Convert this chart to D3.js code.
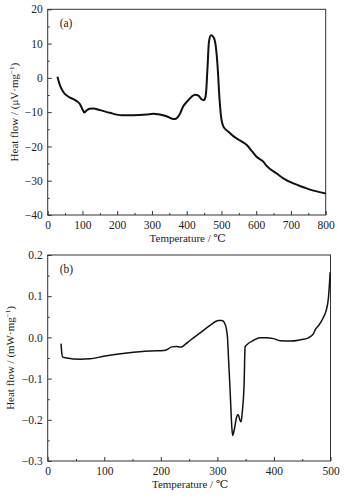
<!DOCTYPE html>
<html>
<head>
<meta charset="utf-8">
<script src="https://cdn.jsdelivr.net/npm/d3@7"></script>
<style>
  body { margin: 0; background: #fff; }
  svg text { font-family: "Liberation Serif", "DejaVu Serif", serif; fill: #222; }
</style>
</head>
<body>
<svg id="chart" width="344" height="498"></svg>
<script>
// panel (a): heat flow, µV/mg
const tempA = [28, 35, 45, 60, 79, 93, 101, 105, 110, 120, 131, 151, 179, 213, 246, 285, 304, 318, 342, 361, 369, 381, 390, 402, 414, 424, 434, 443, 450, 455, 460, 464, 470, 477, 484, 489, 494, 499, 506, 520, 534, 554, 573, 587, 601, 621, 630, 659, 678, 707, 736, 765, 800];
const flowA = [0.3, -2.1, -4.1, -5.5, -6.5, -7.7, -9.4, -10.1, -9.7, -9.0, -8.9, -9.4, -10.2, -10.9, -10.9, -10.7, -10.5, -10.6, -11.2, -12.0, -11.9, -10.4, -8.3, -6.8, -5.5, -4.9, -5.2, -6.3, -6.5, -5.0, 3.2, 10.5, 12.4, 11.9, 9.0, 3.2, -5.5, -11.4, -14.3, -15.7, -17.0, -18.3, -19.6, -21.3, -23.0, -24.5, -25.7, -27.9, -29.3, -30.8, -31.9, -32.9, -33.7];

// panel (b): heat flow, mW/mg
const tempB = [23.6, 24.8, 26.5, 33.6, 57, 75, 98.5, 140, 181, 205, 213, 219, 228, 234, 237, 243, 252, 269.5, 287, 302, 308, 313.7, 317.8, 319.6, 322.5, 325.5, 327, 329.6, 334, 336.7, 340, 342, 344.3, 347.3, 349, 352, 364, 376, 387, 399, 411, 429, 446, 461, 470, 473, 479, 487.6, 492.3, 496.5, 498.2, 499.4];
const flowB = [-0.015, -0.036, -0.048, -0.050, -0.053, -0.052, -0.046, -0.038, -0.033, -0.032, -0.028, -0.023, -0.022, -0.023, -0.023, -0.017, -0.007, 0.011, 0.029, 0.041, 0.041, 0.032, 0.001, -0.048, -0.129, -0.217, -0.238, -0.226, -0.193, -0.187, -0.201, -0.205, -0.177, -0.112, -0.023, -0.018, -0.007, -0.001, -0.001, -0.003, -0.008, -0.009, -0.006, -0.001, 0.009, 0.019, 0.029, 0.049, 0.065, 0.098, 0.130, 0.158];

const xTicksA = [0, 100, 200, 300, 400, 500, 600, 700, 800];
const yTicksA = [-40, -30, -20, -10, 0, 10, 20];
const xTicksB = [0, 100, 200, 300, 400, 500];
const yTicksB = [-0.3, -0.2, -0.1, 0.0, 0.1, 0.2];

const svg = d3.select("#chart");

function panel(opt) {
    const g = svg.append("g");
    const x = d3.scaleLinear().domain(opt.xDomain).range([opt.left, opt.right]);
    const y = d3.scaleLinear().domain(opt.yDomain).range([opt.bottom, opt.top]);

    // minor ticks
    const xAxisMinor = d3.axisBottom(x).tickValues(opt.xMinor).tickSize(-2).tickFormat("");
    const yAxisMinor = d3.axisLeft(y).tickValues(opt.yMinor).tickSize(-2).tickFormat("");
    g.append("g").attr("transform", `translate(0,${opt.bottom})`).call(xAxisMinor);
    g.append("g").attr("transform", `translate(${opt.left},0)`).call(yAxisMinor);

    const xAxis = d3.axisBottom(x).tickValues(opt.xTicks).tickSize(-4).tickPadding(6).tickFormat(d3.format("d"));
    const yAxis = d3.axisLeft(y).tickValues(opt.yTicks).tickSize(-4).tickPadding(5).tickFormat(opt.yFormat);
    g.append("g").attr("transform", `translate(0,${opt.bottom})`).call(xAxis);
    g.append("g").attr("transform", `translate(${opt.left},0)`).call(yAxis);

    g.selectAll(".domain").remove();
    g.selectAll(".tick line").attr("stroke", "#333");
    g.selectAll(".tick text").attr("font-size", 11.5).attr("fill", "#222")
        .style("font-family", "'Liberation Serif', serif");

    // frame
    g.append("rect")
        .attr("x", opt.left).attr("y", opt.top)
        .attr("width", opt.right - opt.left).attr("height", opt.bottom - opt.top)
        .attr("fill", "none").attr("stroke", "#333").attr("stroke-width", 1);

    const line = d3.line()
        .x((d, i) => x(opt.xs[i]))
        .y(d => y(d))
        .curve(d3.curveMonotoneX);
    g.append("path")
        .attr("d", line(opt.ys))
        .attr("fill", "none")
        .attr("stroke", "#111")
        .attr("stroke-width", opt.lw)
        .attr("stroke-linejoin", "round");

    g.append("text")
        .attr("x", opt.left + 12).attr("y", opt.top + 18)
        .attr("font-size", 11.5)
        .text(opt.tag);

    g.append("text")
        .attr("x", (opt.left + opt.right) / 2 + 1).attr("y", opt.bottom + 27)
        .attr("text-anchor", "middle").attr("font-size", 11)
        .text("Temperature / ℃");

    const yl = g.append("text")
        .attr("transform", `translate(${opt.yLabelX},${(opt.top + opt.bottom) / 2}) rotate(-90)`)
        .attr("text-anchor", "middle").attr("font-size", 11);
    yl.append("tspan").text(opt.unit);
    yl.append("tspan").attr("dy", -4).attr("font-size", 7).text("−1");
    yl.append("tspan").attr("dy", 4).text(")");
}

panel({
    xs: tempA, ys: flowA,
    xDomain: [0, 800], yDomain: [-40, 20],
    left: 47.7, right: 325.7, top: 9.3, bottom: 215,
    xTicks: xTicksA, yTicks: yTicksA,
    xMinor: d3.range(50, 800, 100), yMinor: d3.range(-35, 20, 10),
    yFormat: d3.format("d"),
    lw: 2, tag: "(a)", unit: "Heat flow / (μV·mg", yLabelX: 18
});

panel({
    xs: tempB, ys: flowB,
    xDomain: [0, 500], yDomain: [-0.3, 0.2],
    left: 47.7, right: 330.5, top: 255, bottom: 461,
    xTicks: xTicksB, yTicks: yTicksB,
    xMinor: d3.range(50, 500, 100), yMinor: [-0.25, -0.15, -0.05, 0.05, 0.15],
    yFormat: d3.format(".1f"),
    lw: 1.5, tag: "(b)", unit: "Heat flow / (mW·mg", yLabelX: 14
});
</script>
</body>
</html>
